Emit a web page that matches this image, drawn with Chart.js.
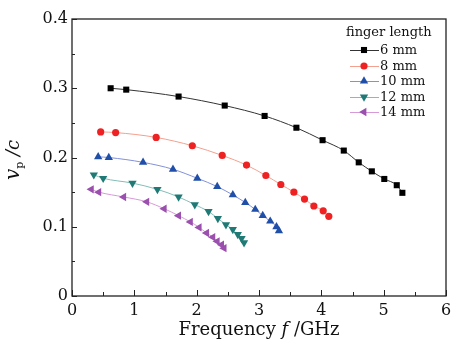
<!DOCTYPE html>
<html>
<head>
<meta charset="utf-8">
<script src="https://cdn.jsdelivr.net/npm/chart.js@4"></script>
<style>
    html, body { margin: 0; padding: 0; background: #fff; }
    #wrap { width: 461px; height: 342px; }
</style>
</head>
<body>
<div id="wrap"><canvas id="chart" width="461" height="342"></canvas></div>
<script>
// Data (frequency in GHz, vp/c)
const labels = ['6 mm', '8 mm', '10 mm', '12 mm', '14 mm'];
const xTicks = [0, 1, 2, 3, 4, 5, 6];
const yTicks = [0, 0.1, 0.2, 0.3, 0.4];

const f6 = [0.62, 0.87, 1.71, 2.45, 3.09, 3.60, 4.02, 4.36, 4.60, 4.81, 5.01, 5.21, 5.30];
const v6 = [0.300, 0.298, 0.288, 0.275, 0.260, 0.243, 0.225, 0.210, 0.193, 0.180, 0.169, 0.160, 0.149];

const f8 = [0.46, 0.70, 1.35, 1.93, 2.41, 2.80, 3.11, 3.35, 3.56, 3.73, 3.88, 4.03, 4.12];
const v8 = [0.237, 0.236, 0.229, 0.217, 0.203, 0.189, 0.174, 0.161, 0.150, 0.140, 0.130, 0.123, 0.115];

const f10 = [0.42, 0.59, 1.14, 1.62, 2.01, 2.33, 2.58, 2.78, 2.94, 3.06, 3.18, 3.28, 3.32];
const v10 = [0.201, 0.200, 0.193, 0.183, 0.170, 0.158, 0.146, 0.135, 0.125, 0.116, 0.108, 0.100, 0.094];

const f12 = [0.35, 0.50, 0.97, 1.37, 1.71, 1.97, 2.19, 2.34, 2.47, 2.58, 2.66, 2.72, 2.76];
const v12 = [0.175, 0.170, 0.163, 0.154, 0.143, 0.132, 0.122, 0.112, 0.103, 0.096, 0.089, 0.083, 0.077];

const f14 = [0.31, 0.43, 0.83, 1.20, 1.48, 1.71, 1.90, 2.04, 2.16, 2.26, 2.33, 2.40, 2.44];
const v14 = [0.154, 0.150, 0.143, 0.136, 0.126, 0.116, 0.107, 0.099, 0.091, 0.085, 0.079, 0.074, 0.069];

const FONT = 'DejaVu Serif';

function pts(xs, ys) {
    return xs.map((x, i) => ({ x: x, y: ys[i] }));
}

function series(label, xs, ys, marker, line, style, rotation, radius) {
    return {
        label: label,
        data: pts(xs, ys),
        borderColor: line,
        borderWidth: 1,
        backgroundColor: marker,
        pointBackgroundColor: marker,
        pointBorderColor: marker,
        pointBorderWidth: 0,
        pointStyle: style,
        rotation: rotation,
        pointRadius: radius,
        tension: 0.4,
        cubicInterpolationMode: 'monotone'
    };
}

const datasets = [
    series(labels[0], f6, v6, '#000000', '#333333', 'rect', 0, 4.3),
    series(labels[1], f8, v8, '#ee2222', '#f4a08e', 'circle', 0, 3.6),
    series(labels[2], f10, v10, '#1f4fa8', '#8391d6', 'triangle', 0, 4.8),
    series(labels[3], f12, v12, '#1f7a76', '#84bcb8', 'triangle', 180, 4.8),
    series(labels[4], f14, v14, '#9b4fae', '#d69ad8', 'triangle', -90, 4.8)
];

// frame, inward ticks, axis titles and legend
const decor = {
    id: 'decor',
    afterDraw(chart) {
        const ctx = chart.ctx;
        const a = chart.chartArea;
        const xs = chart.scales.x;
        const ys = chart.scales.y;
        ctx.save();
        ctx.strokeStyle = '#222';
        ctx.lineWidth = 1.3;
        ctx.strokeRect(a.left, a.top, a.right - a.left, a.bottom - a.top);

        ctx.lineWidth = 1;
        ctx.beginPath();
        for (let v = 0; v <= 6.001; v += 0.5) {
            const px = Math.round(xs.getPixelForValue(v)) + 0.5;
            const len = Math.abs(v - Math.round(v)) < 0.01 ? 6 : 4;
            ctx.moveTo(px, a.bottom);
            ctx.lineTo(px, a.bottom - len);
        }
        for (let v = 0; v <= 0.4001; v += 0.05) {
            const py = Math.round(ys.getPixelForValue(v)) + 0.5;
            const len = Math.abs(v * 10 - Math.round(v * 10)) < 0.01 ? 5 : 3;
            ctx.moveTo(a.left, py);
            ctx.lineTo(a.left + len, py);
        }
        ctx.stroke();

        // x title
        ctx.fillStyle = '#111';
        ctx.textBaseline = 'alphabetic';
        const parts = [
            ['Frequency ', 'normal 18px ' + FONT],
            ['f', 'italic 18px ' + FONT],
            [' /GHz', 'normal 18px ' + FONT]
        ];
        let w = 0;
        parts.forEach(p => { ctx.font = p[1]; w += ctx.measureText(p[0]).width; });
        let x = (a.left + a.right) / 2 - w / 2;
        parts.forEach(p => {
            ctx.font = p[1];
            ctx.fillText(p[0], x, 335);
            x += ctx.measureText(p[0]).width;
        });

        // y title
        ctx.save();
        ctx.translate(19, 160);
        ctx.rotate(-Math.PI / 2);
        const yp = [
            ['v', 'italic 20px ' + FONT, 0],
            ['p', 'normal 11px ' + FONT, 4],
            [' /c', 'italic 18px ' + FONT, 0]
        ];
        w = 0;
        yp.forEach(p => { ctx.font = p[1]; w += ctx.measureText(p[0]).width; });
        x = -w / 2;
        yp.forEach(p => {
            ctx.font = p[1];
            ctx.fillText(p[0], x, p[2]);
            x += ctx.measureText(p[0]).width;
        });
        ctx.restore();

        // legend
        ctx.font = 'normal 13px ' + FONT;
        ctx.textBaseline = 'middle';
        ctx.fillText('finger length', 346, 33);
        const rows = [50, 66, 81, 97, 112];
        chart.data.datasets.forEach((ds, i) => {
            const y = rows[i];
            ctx.strokeStyle = ds.borderColor;
            ctx.lineWidth = 1;
            ctx.beginPath();
            ctx.moveTo(350, y + 0.5);
            ctx.lineTo(379, y + 0.5);
            ctx.stroke();
            ctx.fillStyle = ds.pointBackgroundColor;
            ctx.strokeStyle = ds.pointBorderColor;
            Chart.helpers.drawPoint(ctx, {
                pointStyle: ds.pointStyle,
                rotation: ds.rotation,
                radius: ds.pointRadius,
                borderWidth: 0
            }, 364, y);
            ctx.fillStyle = '#111';
            ctx.fillText(ds.label, 380, y + 1);
        });
        ctx.restore();
    }
};

new Chart(document.getElementById('chart'), {
    type: 'line',
    data: { datasets: datasets },
    options: {
        responsive: false,
        animation: false,
        layout: { padding: { left: 0, right: 15, top: 19, bottom: 0 } },
        plugins: {
            legend: { display: false },
            tooltip: { enabled: false }
        },
        scales: {
            x: {
                type: 'linear',
                min: xTicks[0],
                max: xTicks[xTicks.length - 1],
                afterBuildTicks: s => { s.ticks = xTicks.map(v => ({ value: v })); },
                afterFit: s => { s.height = 46; },
                grid: { display: false, drawTicks: false },
                border: { display: false },
                ticks: {
                    color: '#111',
                    padding: 5,
                    maxRotation: 0,
                    font: { family: FONT, size: 16 },
                    callback: v => String(v)
                }
            },
            y: {
                type: 'linear',
                min: yTicks[0],
                max: yTicks[yTicks.length - 1],
                afterBuildTicks: s => { s.ticks = yTicks.map(v => ({ value: v })); },
                afterFit: s => { s.width = 72; },
                grid: { display: false, drawTicks: false },
                border: { display: false },
                ticks: {
                    color: '#111',
                    padding: 4,
                    font: { family: FONT, size: 16 },
                    callback: v => v === 0 ? '0' : v.toFixed(1)
                }
            }
        }
    },
    plugins: [decor]
});
</script>
</body>
</html>
